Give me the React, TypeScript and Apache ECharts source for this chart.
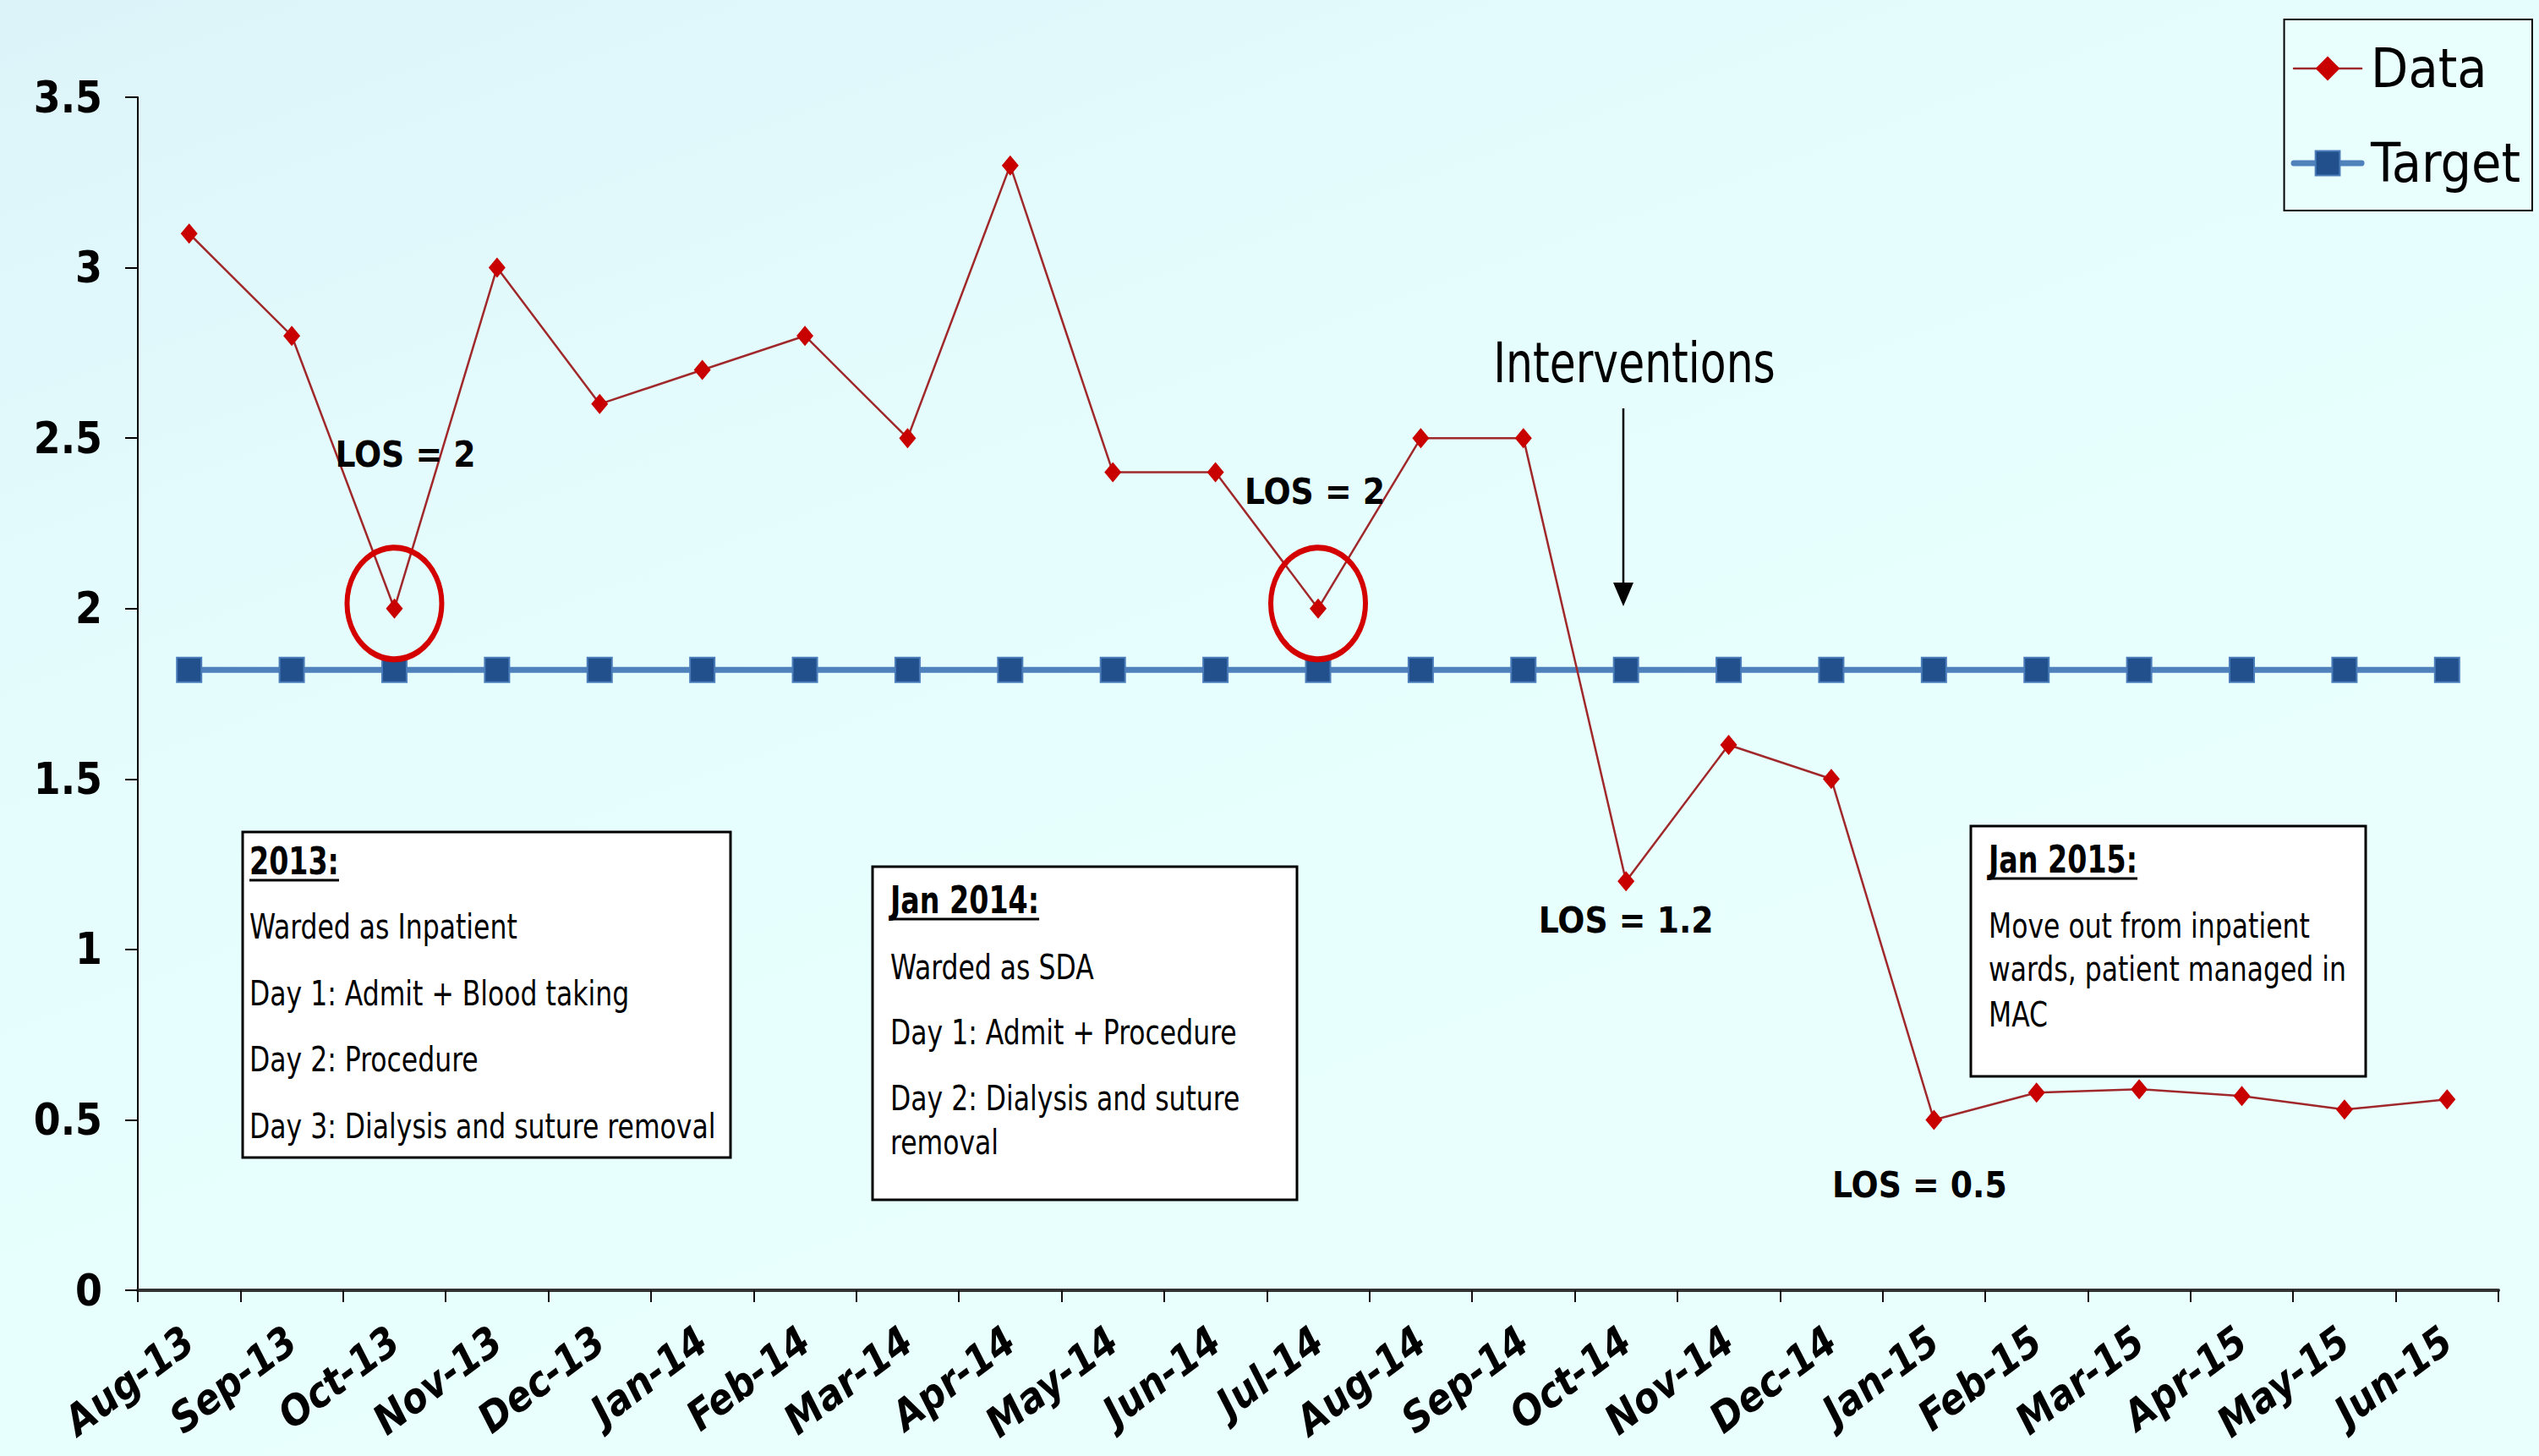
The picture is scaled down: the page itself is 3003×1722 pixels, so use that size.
import React, { useEffect, useRef } from "react";
import * as echarts from "echarts";

const categories = [
  "Aug-13", "Sep-13", "Oct-13", "Nov-13", "Dec-13", "Jan-14", "Feb-14", "Mar-14",
  "Apr-14", "May-14", "Jun-14", "Jul-14", "Aug-14", "Sep-14", "Oct-14", "Nov-14",
  "Dec-14", "Jan-15", "Feb-15", "Mar-15", "Apr-15", "May-15", "Jun-15",
];
const dataValues = [
  3.1, 2.8, 2.0, 3.0, 2.6, 2.7, 2.8, 2.5, 3.3, 2.4, 2.4, 2.0, 2.5, 2.5, 1.2, 1.6,
  1.5, 0.5, 0.58, 0.59, 0.57, 0.53, 0.56,
];
const targetValues = [
  1.82, 1.82, 1.82, 1.82, 1.82, 1.82, 1.82, 1.82, 1.82, 1.82, 1.82, 1.82, 1.82,
  1.82, 1.82, 1.82, 1.82, 1.82, 1.82, 1.82, 1.82, 1.82, 1.82,
];
const yMin = 0;
const yMax = 3.5;
const yInterval = 0.5;

const seriesNames = ["Data", "Target"];
const circledIdx = [2, 11];
const losLabels = [
  { idx: 2, text: "LOS = 2" },
  { idx: 11, text: "LOS = 2" },
  { idx: 14, text: "LOS = 1.2" },
  { idx: 17, text: "LOS = 0.5" },
];
const interventionsText = "Interventions";
const box1Lines = [
  "2013:",
  "Warded as Inpatient",
  "Day 1: Admit + Blood taking",
  "Day 2: Procedure",
  "Day 3: Dialysis and suture removal",
];
const box2Lines = [
  "Jan 2014:",
  "Warded as SDA",
  "Day 1: Admit + Procedure",
  "Day 2: Dialysis and suture",
  "removal",
];
const box3Lines = [
  "Jan 2015:",
  "Move out from inpatient",
  "wards, patient managed in",
  "MAC",
];

const FONT = "'DejaVu Sans Condensed', 'DejaVu Sans', sans-serif";

export default function App() {
  const ref = useRef<HTMLDivElement>(null);

  useEffect(() => {
    document.body.style.margin = "0";
    const chart = echarts.init(ref.current!, null, { renderer: "svg" });

    const ctx = document.createElement("canvas").getContext("2d")!;
    const measure = (font: string, text: string) => {
      ctx.font = font;
      return ctx.measureText(text).width;
    };

    const headSize = 37;
    const bodySize = 35;
    const stretch = 1.18;

    const makeBox = (
      x: number, y: number, w: number, h: number, tx: number,
      ys: number[], lines: string[]
    ) => {
      const children: any[] = [
        {
          type: "rect",
          shape: { x, y, width: w, height: h },
          style: { fill: "#ffffff", stroke: "#000000", lineWidth: 3 },
        },
      ];
      lines.forEach((t, i) => {
        const head = i === 0;
        children.push({
          type: "text",
          x: tx,
          y: ys[i],
          scaleY: stretch,
          style: {
            text: t,
            fill: "#000",
            fontSize: head ? headSize : bodySize,
            fontWeight: head ? "bold" : "normal",
            fontFamily: FONT,
            textAlign: "left",
            textVerticalAlign: "middle",
          },
        });
        if (head) {
          const wd = measure(`bold ${headSize}px 'DejaVu Sans Condensed', 'DejaVu Sans', sans-serif`, t);
          children.push({
            type: "line",
            shape: { x1: tx, y1: ys[i] + 22, x2: tx + wd, y2: ys[i] + 22 },
            style: { stroke: "#000", lineWidth: 3 },
          });
        }
      });
      return { type: "group", children };
    };

    const losOffsets: Record<number, number[]> = {
      2: [13, -182],
      11: [-4, -138],
      14: [0, 46],
      17: [-17, 77],
    };

    const markData: any[] = [
      ...circledIdx.map((i) => ({
        coord: [categories[i], dataValues[i]],
        symbol: "circle",
        symbolSize: [112, 132],
        symbolOffset: [0, -6],
        itemStyle: { color: "rgba(0,0,0,0)", borderColor: "#D40000", borderWidth: 6.5 },
        label: { show: false },
      })),
      ...losLabels.map((l) => ({
        coord: [categories[l.idx], dataValues[l.idx]],
        symbol: "circle",
        symbolSize: 1,
        itemStyle: { color: "rgba(0,0,0,0)" },
        label: {
          show: true,
          formatter: l.text,
          offset: losOffsets[l.idx],
          color: "#000",
          fontSize: 42,
          fontWeight: "bold",
          fontFamily: FONT,
        },
      })),
    ];

    const option: any = {
      animation: false,
      grid: { left: 163, right: 48, top: 115, bottom: 196, containLabel: false },
      legend: {
        data: seriesNames,
        orient: "vertical",
        right: 8,
        top: 23,
        itemWidth: 80,
        itemHeight: 36,
        itemGap: 48,
        padding: [26, 14, 24, 8],
        borderColor: "#000",
        borderWidth: 2,
        backgroundColor: "rgba(232,255,253,1)",
        lineStyle: { width: "inherit", cap: "round" },
        textStyle: {
          fontSize: 64,
          fontFamily: FONT,
          color: "#000",
          padding: [0, 0, 0, 6],
        },
      },
      xAxis: {
        type: "category",
        data: categories,
        boundaryGap: true,
        axisLine: { lineStyle: { color: "#333", width: 4 } },
        axisTick: { show: true, length: 14, lineStyle: { color: "#111", width: 2 } },
        axisLabel: {
          rotate: 37,
          interval: 0,
          margin: 54,
          fontSize: 49,
          fontWeight: "bold",
          fontStyle: "italic",
          fontFamily: FONT,
          color: "#000",
        },
        splitLine: { show: false },
      },
      yAxis: {
        type: "value",
        min: yMin,
        max: yMax,
        interval: yInterval,
        axisLine: { show: true, lineStyle: { color: "#000", width: 2 } },
        axisTick: { show: true, length: 15, lineStyle: { color: "#000", width: 2 } },
        axisLabel: {
          margin: 42,
          fontSize: 51,
          fontWeight: "bold",
          fontFamily: FONT,
          color: "#000",
        },
        splitLine: { show: false },
      },
      series: [
        {
          name: "Target",
          type: "line",
          data: targetValues,
          symbol: "rect",
          symbolSize: 29,
          lineStyle: { color: "#4F81BD", width: 7 },
          itemStyle: { color: "#21508C", borderColor: "#4A7CBA", borderWidth: 2 },
          z: 2,
        },
        {
          name: "Data",
          type: "line",
          data: dataValues,
          symbol: "diamond",
          symbolSize: [20, 24],
          lineStyle: { color: "#A0282A", width: 2.5 },
          itemStyle: { color: "#C80000" },
          z: 3,
          markPoint: { data: markData, z: 4 },
        },
      ],
      graphic: [
        {
          type: "text",
          x: 1933,
          y: 429,
          scaleY: stretch,
          style: {
            text: interventionsText,
            fill: "#000",
            fontSize: 56,
            fontFamily: FONT,
            textAlign: "center",
            textVerticalAlign: "middle",
          },
        },
        {
          type: "line",
          shape: { x1: 1920, y1: 483, x2: 1920, y2: 695 },
          style: { stroke: "#000", lineWidth: 2.5 },
        },
        {
          type: "polygon",
          shape: { points: [[1908, 689], [1932, 689], [1920, 717]] },
          style: { fill: "#000" },
        },
        makeBox(287, 984, 577, 385, 295, [1019, 1095, 1174, 1252, 1331], box1Lines),
        makeBox(1032, 1025, 502, 394, 1053, [1065, 1143, 1220, 1298, 1350], box2Lines),
        makeBox(2331, 977, 467, 296, 2352, [1017, 1094, 1145, 1199], box3Lines),
      ],
    };

    chart.setOption(option);
    return () => chart.dispose();
  }, []);

  return (
    <div
      ref={ref}
      style={{
        position: "absolute",
        left: 0,
        top: 0,
        width: 3003,
        height: 1722,
        background:
          "linear-gradient(160deg, #dcf3f9 0%, #e3fbfc 25%, #e7fffd 55%, #e9fffe 100%)",
      }}
    />
  );
}
